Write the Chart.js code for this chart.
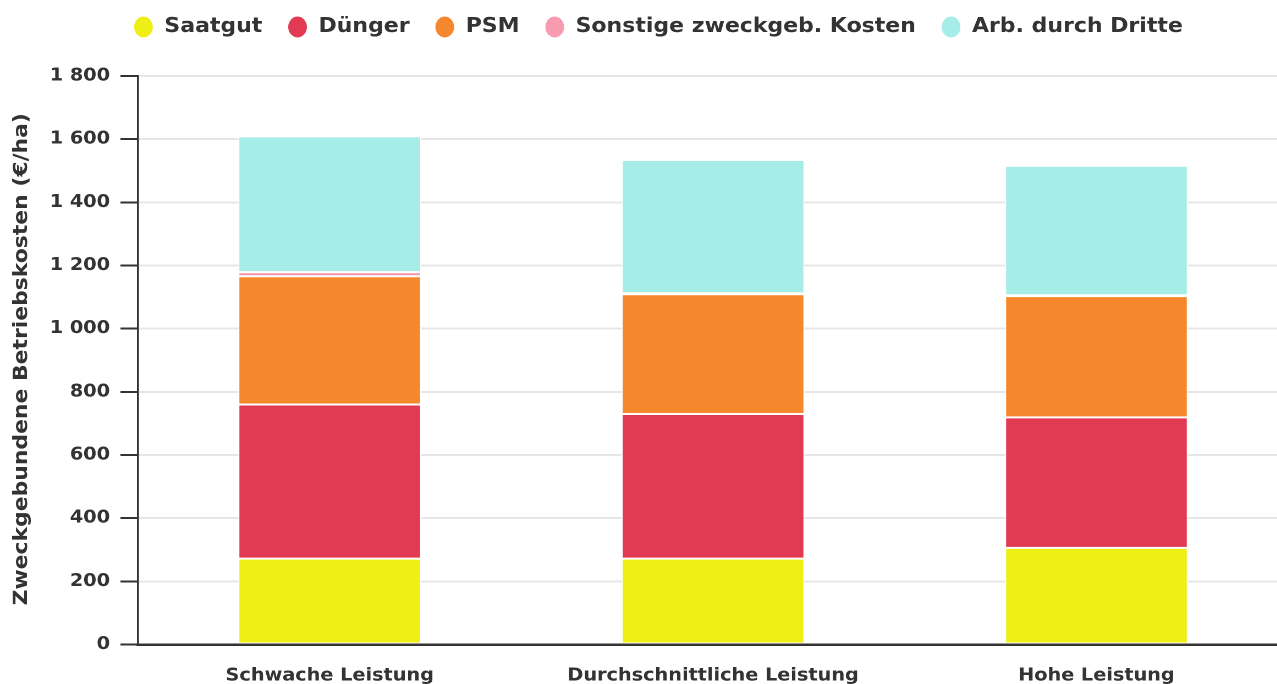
<!DOCTYPE html>
<html>
<head>
<meta charset="utf-8">
<script src="https://cdn.jsdelivr.net/npm/chart.js@4/dist/chart.umd.min.js"></script>
<style>
  html, body { margin: 0; padding: 0; background: #fff; overflow: hidden; width: 1277px; height: 684px; }
  #wrap { position: absolute; left: 0; top: 0; width: 1174px; height: 684px; transform: scaleX(1.1); transform-origin: 0 0; }
</style>
</head>
<body>
<div id="wrap"><canvas id="c"></canvas></div>
<script>
// ---- data ----
const categories = ['Schwache Leistung', 'Durchschnittliche Leistung', 'Hohe Leistung'];
const seriesNames = ['Saatgut', 'Dünger', 'PSM', 'Sonstige zweckgeb. Kosten', 'Arb. durch Dritte'];
const saatgut   = [272, 272, 306];
const duenger   = [488, 458, 413];
const psm       = [406, 379, 384];
const sonstige  = [13, 3, 3];
const arbDritte = [430, 422, 410];
const yTickLabels = ['0', '200', '400', '600', '800', '1 000', '1 200', '1 400', '1 600', '1 800'];
const yTitle = 'Zweckgebundene Betriebskosten (€/ha)';

// ---- styles ----
const colors = ['#EFEF15', '#E23A53', '#F5882D', '#F79BB0', '#A6ECE7'];
const textColor = '#333333';
const FONT = '"DejaVu Sans", sans-serif';

const seriesValues = [saatgut, duenger, psm, sonstige, arbDritte];
const datasets = seriesNames.map((name, i) => ({
  label: name,
  data: seriesValues[i],
  backgroundColor: colors[i],
  borderColor: '#ffffff',
  borderWidth: 1,
  borderSkipped: false,
  pointStyle: 'circle',
  barPercentage: 0.477,
  categoryPercentage: 1.0
}));

const legendShift = {
  id: 'legendShift',
  afterLayout(chart) {
    const l = chart.legend;
    if (!l) return;
    l.left -= 5; l.right -= 5;
    l.top -= 29; l.bottom -= 29;
  }
};

const yTitlePlugin = {
  id: 'yTitlePlugin',
  afterDraw(chart) {
    const ctx = chart.ctx;
    const a = chart.chartArea;
    ctx.save();
    ctx.translate(20, (a.top + a.bottom) / 2 - 1);
    ctx.rotate(-Math.PI / 2);
    ctx.scale(1.216, 1);
    ctx.font = 'bold 18px ' + FONT;
    ctx.fillStyle = textColor;
    ctx.textAlign = 'center';
    ctx.textBaseline = 'middle';
    ctx.fillText(yTitle, 0, 0);
    ctx.restore();
  }
};

new Chart(document.getElementById('c'), {
  type: 'bar',
  data: { labels: categories, datasets },
  options: {
    responsive: true,
    maintainAspectRatio: false,
    devicePixelRatio: 2,
    animation: false,
    layout: { padding: { left: 35.7, right: 3, top: 23, bottom: -23.5 } },
    plugins: {
      tooltip: { enabled: false },
      title: { display: false },
      legend: {
        position: 'top',
        labels: {
          usePointStyle: true,
          pointStyleWidth: 18,
          boxHeight: 15.5,
          padding: 23,
          color: textColor,
          font: { family: FONT, size: 20, weight: 'bold' }
        }
      }
    },
    scales: {
      x: {
        stacked: true,
        grid: { display: true, color: 'rgba(0,0,0,0)', drawTicks: false },
        border: { display: true, color: '#333333', width: 2.5 },
        ticks: {
          padding: 21,
          color: textColor,
          font: { family: FONT, size: 17.5, weight: 'bold' }
        }
      },
      y: {
        stacked: true,
        min: 0,
        max: 1800,
        grid: { color: '#e6e6e6', lineWidth: 2, tickColor: '#333333', tickLength: 16, tickWidth: 2 },
        border: { display: true, color: '#333333', width: 1.8 },
        ticks: {
          stepSize: 200,
          padding: 9.5,
          color: textColor,
          font: { family: FONT, size: 17.5, weight: 'bold' },
          callback: (v, i) => yTickLabels[i]
        },
        title: { display: false }
      }
    }
  },
  plugins: [legendShift, yTitlePlugin]
});
</script>
</body>
</html>
